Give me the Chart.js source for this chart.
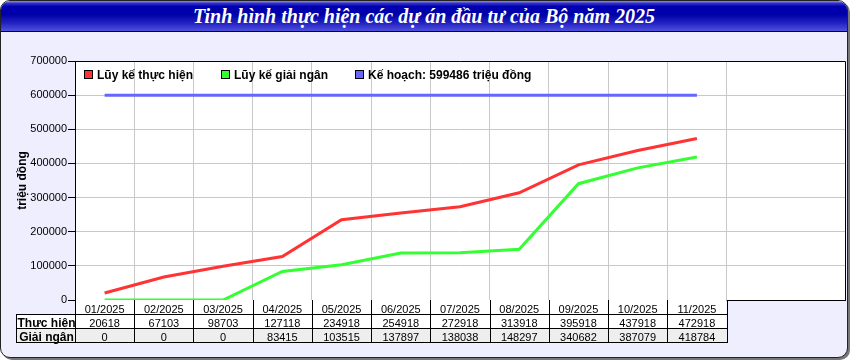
<!DOCTYPE html>
<html>
<head>
<meta charset="utf-8">
<script src="https://cdn.jsdelivr.net/npm/chart.js@4/dist/chart.umd.min.js"></script>
<style>
html,body{margin:0;padding:0;background:#fff;}
#frame{position:absolute;left:0;top:0;width:846px;height:356px;border:1px solid #222;border-radius:10px;background:#eeeeff;box-shadow:2px 2px 0 #777;overflow:hidden;}
#title{position:absolute;left:0;top:0;width:100%;height:30px;border-bottom:1px solid #000;
 background:linear-gradient(to bottom,#9090e8 0%,#3030c8 8%,#0000b0 18%,#0000a8 45%,#2020c0 72%,#5050e0 100%);
 color:#fff;font:italic bold 20px "Liberation Serif","Times New Roman",serif;text-align:center;line-height:30px;}
#wrap{position:absolute;left:0;top:0;width:850px;height:360px;}
</style>
</head>
<body>
<div id="frame"><div id="title">Tinh hình thực hiện các dự án đầu tư của Bộ năm 2025</div></div>
<div id="wrap"><canvas id="c" width="850" height="360"></canvas></div>
<script>
// ---- data ----
const categories = ['01/2025','02/2025','03/2025','04/2025','05/2025','06/2025','07/2025','08/2025','09/2025','10/2025','11/2025'];
const thucHien = [20618, 67103, 98703, 127118, 234918, 254918, 272918, 313918, 395918, 437918, 472918];
const giaiNgan = [0, 0, 0, 83415, 103515, 137897, 138038, 148297, 340682, 387079, 418784];
const keHoach = [599486, 599486, 599486, 599486, 599486, 599486, 599486, 599486, 599486, 599486, 599486];
const seriesNames = ['Lũy kế thực hiện', 'Lũy kế giải ngân', 'Kế hoạch: 599486 triệu đồng'];
const rowNames = ['Thực hiện', 'Giải ngân'];
const yAxisTitle = 'triệu đồng';
const yMin = 0, yMax = 700000, yStep = 100000;
const emptySlots = ['', ''];

const FONT = '"Liberation Sans", Arial, sans-serif';
Chart.defaults.font.family = FONT;

const bgPlugin = {
  id: 'bg',
  beforeDraw(chart) {
    const a = chart.chartArea, ctx = chart.ctx;
    ctx.save();
    ctx.fillStyle = '#ffffff';
    ctx.fillRect(a.left, a.top, a.right - a.left, a.bottom - a.top);
    ctx.restore();
  },
  afterDraw(chart) {
    const a = chart.chartArea, ctx = chart.ctx;
    ctx.save();
    ctx.strokeStyle = '#000';
    ctx.lineWidth = 1;
    ctx.beginPath();
    ctx.moveTo(Math.round(a.left), Math.round(a.top) + 0.5);
    ctx.lineTo(Math.round(a.right) + 0.5, Math.round(a.top) + 0.5);
    ctx.lineTo(Math.round(a.right) + 0.5, Math.round(a.bottom));
    ctx.stroke();
    ctx.restore();
  }
};

const legendPlugin = {
  id: 'customLegend',
  afterDraw(chart) {
    const ctx = chart.ctx;
    const xs = [84, 221, 355];
    ctx.save();
    ctx.font = 'bold 12px ' + FONT;
    ctx.textBaseline = 'alphabetic';
    chart.data.datasets.forEach((ds, i) => {
      const x = xs[i];
      ctx.fillStyle = ds.borderColor;
      ctx.fillRect(x, 70, 9, 9);
      ctx.strokeStyle = '#000';
      ctx.lineWidth = 1;
      ctx.strokeRect(x + 0.5, 70.5, 8, 8);
      ctx.fillStyle = '#000';
      ctx.fillText(ds.label, x + 13, 79);
    });
    ctx.restore();
  }
};

const tablePlugin = {
  id: 'dataTable',
  afterDraw(chart) {
    const ctx = chart.ctx, xs = chart.scales.x, a = chart.chartArea;
    const n = categories.length;
    const w = xs.width / xs.ticks.length;
    const edge = i => xs.getPixelForValue(i) - w / 2;
    const top = Math.round(a.bottom), rh = 14, labelLeft = 16, labelRight = Math.round(a.left);
    const right = edge(n);
    const rows = [thucHien, giaiNgan];
    ctx.save();
    // fills
    ctx.fillStyle = '#ffffff';
    ctx.fillRect(labelRight, top, right - labelRight, rh);
    ctx.fillRect(labelLeft, top + rh, right - labelLeft, rh);
    ctx.fillStyle = '#eeeeee';
    ctx.fillRect(labelLeft, top + 2 * rh, right - labelLeft, rh);
    // lines
    ctx.strokeStyle = '#000';
    ctx.lineWidth = 1;
    ctx.beginPath();
    for (let i = 0; i <= n; i++) {
      const x = Math.round(edge(i)) + 0.5;
      ctx.moveTo(x, top); ctx.lineTo(x, top + 3 * rh + 1);
    }
    ctx.moveTo(labelLeft + 0.5, top + rh); ctx.lineTo(labelLeft + 0.5, top + 3 * rh + 1);
    for (let r = 1; r <= 3; r++) {
      const y = top + r * rh + 0.5;
      ctx.moveTo(labelLeft, y); ctx.lineTo(Math.round(right) + 1, y);
    }
    ctx.stroke();
    // text
    ctx.fillStyle = '#000';
    ctx.textAlign = 'center';
    ctx.textBaseline = 'alphabetic';
    ctx.font = '11px ' + FONT;
    for (let i = 0; i < n; i++) {
      const cx = xs.getPixelForValue(i);
      ctx.fillText(categories[i], cx, top + rh - 1);
      rows.forEach((row, r) => ctx.fillText(String(row[i]), cx, top + (r + 2) * rh - 1));
    }
    ctx.font = 'bold 12px ' + FONT;
    rowNames.forEach((nm, r) => ctx.fillText(nm, (labelLeft + labelRight) / 2 + 1, top + (r + 2) * rh - 1));
    ctx.restore();
  }
};

new Chart(document.getElementById('c'), {
  type: 'line',
  data: {
    labels: categories.concat(emptySlots),
    datasets: [
      { label: seriesNames[0], data: thucHien, borderColor: 'rgb(255,51,51)', backgroundColor: 'rgb(255,51,51)', borderWidth: 3, pointRadius: 0, tension: 0 },
      { label: seriesNames[1], data: giaiNgan, borderColor: 'rgb(51,255,51)', backgroundColor: 'rgb(51,255,51)', borderWidth: 3, pointRadius: 0, tension: 0 },
      { label: seriesNames[2], data: keHoach, borderColor: 'rgb(102,102,255)', backgroundColor: 'rgb(102,102,255)', borderWidth: 3, pointRadius: 0, tension: 0 }
    ]
  },
  options: {
    responsive: false,
    animation: false,
    devicePixelRatio: 1,
    layout: { padding: { top: 61, right: 5, left: 0, bottom: 0 } },
    plugins: { legend: { display: false }, title: { display: false }, tooltip: { enabled: false } },
    scales: {
      x: {
        type: 'category',
        offset: true,
        grid: {
          offset: true,
          drawTicks: false,
          color: ctx => (ctx.index >= 1 && ctx.index <= categories.length) ? '#c8c8c8' : 'rgba(0,0,0,0)'
        },
        ticks: { display: false, autoSkip: false },
        border: { color: '#000' },
        afterFit(s) { s.height = 60; }
      },
      y: {
        min: yMin, max: yMax,
        ticks: { stepSize: yStep, color: '#000', font: { size: 11 }, padding: 1, callback: v => String(v) },
        grid: { color: '#c8c8c8', tickColor: '#000', tickLength: 7 },
        border: { color: '#000' },
        title: { display: true, text: yAxisTitle, color: '#000', font: { size: 12, weight: 'bold' }, padding: { top: 15, bottom: 0 } },
        afterFit(s) { s.width = 75; }
      }
    }
  },
  plugins: [bgPlugin, legendPlugin, tablePlugin]
});
</script>
</body>
</html>
